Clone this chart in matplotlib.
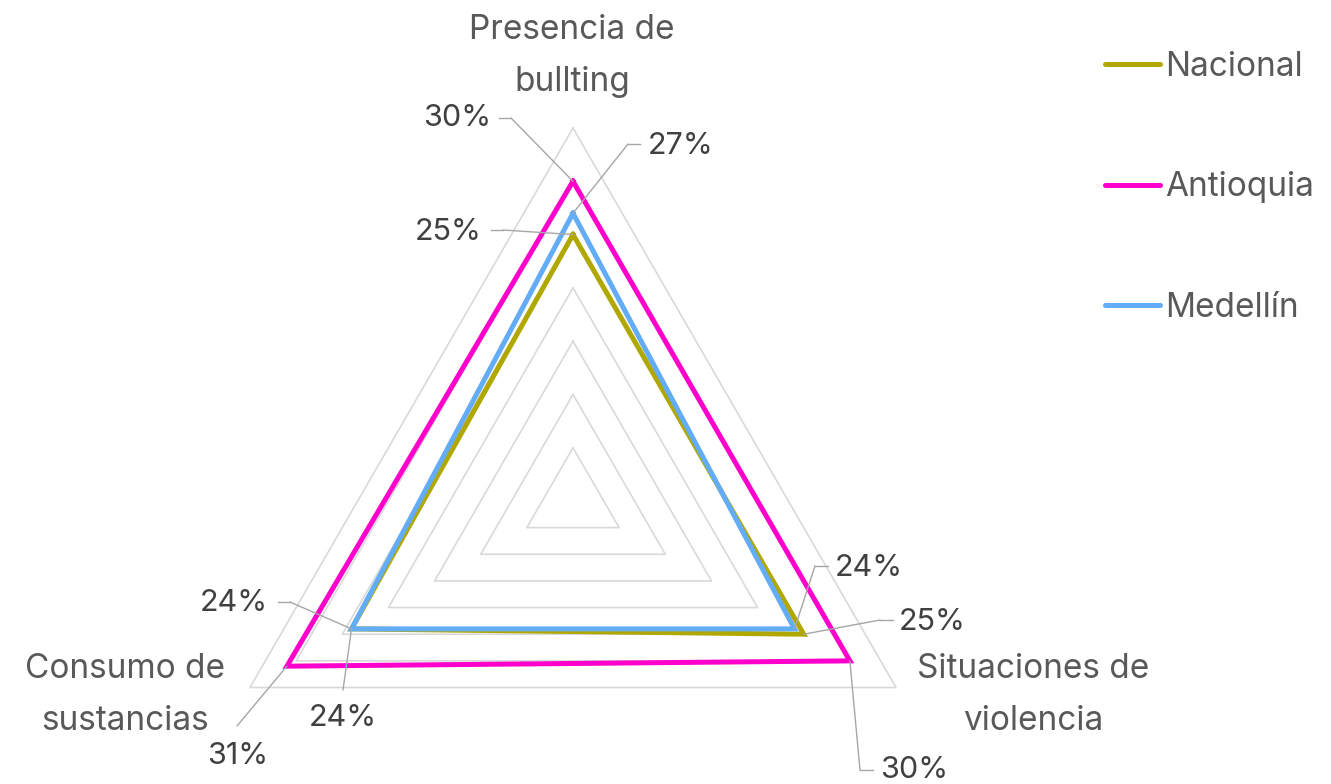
import numpy as np
import matplotlib
matplotlib.use("Agg")
import matplotlib.pyplot as plt
from matplotlib.lines import Line2D

plt.rcParams['font.family'] = ['Inter', 'DejaVu Sans']

categories = ["Presencia de\nbullting", "Situaciones de\nviolencia", "Consumo de\nsustancias"]
series_names = ["Nacional", "Antioquia", "Medellín"]
nacional = [0.25, 0.25, 0.24]
antioquia = [0.30, 0.30, 0.31]
medellin = [0.27, 0.24, 0.24]
series_values = [nacional, antioquia, medellin]
colors = ["#B0A800", "#FF00CC", "#63ACF7"]
grid_levels = [0.05, 0.10, 0.15, 0.20, 0.25, 0.30, 0.35]

W, H = 1331, 784
fig = plt.figure(figsize=(W / 100, H / 100), dpi=100)

# center of the radar at (573, 501) px, radius 373 px
cx, cy, rad = 573, 501, 373
ax = fig.add_axes([(cx - rad) / W, (H - cy - rad) / H, 2 * rad / W, 2 * rad / H],
                  projection="polar")
ax.set_theta_zero_location("N")
ax.set_theta_direction(-1)
ax.set_ylim(0, 0.35)
ax.grid(False)
ax.set_xticks([])
ax.set_yticks([])
ax.spines["polar"].set_visible(False)
ax.patch.set_alpha(0)

angles = np.linspace(0, 2 * np.pi, len(categories), endpoint=False)
closed = np.append(angles, angles[0])

for lev in grid_levels:
    ax.plot(closed, [lev] * len(closed), color="#D9D9D9", lw=1.2, clip_on=False, zorder=1)

for name, vals, c in zip(series_names, series_values, colors):
    ax.plot(closed, vals + vals[:1], color=c, lw=3.6, label=name, clip_on=False,
            zorder=3, solid_joinstyle="miter")

# category labels (pixel positions of text centers)
cat_pos = [(572, 56), (1033, 695), (125, 695)]
for txt, (px, py) in zip(categories, cat_pos):
    fig.text(px / W, 1 - py / H, txt, ha="center", va="center", fontsize=24,
             color="#595959", linespacing=1.82)

# data labels: (series idx, category idx, text center, leader points)
labels = [
    (1, 0, (457, 118), [(499, 118), (511, 118)]),
    (2, 0, (681, 146), [(640, 144), (628, 144)]),
    (0, 0, (448, 232), [(491, 230), (503, 230)]),
    (2, 1, (869, 568), [(828, 566), (815, 566)]),
    (0, 1, (932, 622), [(893, 620), (880, 620)]),
    (1, 1, (914, 770), [(873, 770), (860, 770)]),
    (0, 2, (234, 603), [(278, 602), (290, 602)]),
    (2, 2, (343, 718), [(343, 690), (343, 690)]),
    (1, 2, (238, 756), [(237, 726), (237, 726)]),
]
lc = "#A6A6A6"
for si, ci, (tx, ty), pts in labels:
    val = series_values[si][ci]
    fig.text(tx / W, 1 - ty / H, f"{val * 100:.0f}%", ha="center", va="center",
             fontsize=22, color="#404040")
    (x1, y1), (x2, y2) = pts
    fig.add_artist(Line2D([x1 / W, x2 / W], [1 - y1 / H, 1 - y2 / H], color=lc, lw=1.0,
                          transform=fig.transFigure))
    ax.annotate("", xy=(angles[ci], val), xycoords="data",
                xytext=(x2 / W, 1 - y2 / H), textcoords="figure fraction",
                arrowprops=dict(arrowstyle="-", color=lc, lw=1.0, shrinkA=0, shrinkB=0),
                zorder=4, annotation_clip=False)

leg = fig.legend(loc="upper left", bbox_to_anchor=(1105 / W, 1 - 51 / H), frameon=False,
                 fontsize=24, handlelength=1.65, handletextpad=0.15, labelspacing=2.65,
                 labelcolor="#595959", borderpad=0, borderaxespad=0)
for h in leg.legend_handles:
    h.set_linewidth(3.6)
    h.set_solid_capstyle("round")

fig.savefig("out.png", dpi=100)
